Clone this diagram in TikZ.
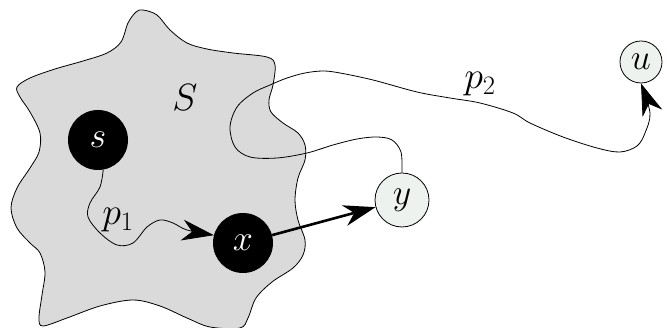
\documentclass[tikz,border=0pt]{standalone}
\usepackage{fix-cm}
\usetikzlibrary{arrows.meta}
\definecolor{blobgray}{HTML}{DADADA}
\definecolor{pale}{HTML}{EEF2EE}
\begin{document}
\begin{tikzpicture}[x=1pt,y=-1pt,
  lbl/.style={font=\fontsize{38}{38}\selectfont, inner sep=0pt},
  dark/.style={circle, fill=black, minimum size=60pt, inner sep=0pt,
    font=\fontsize{36}{36}\selectfont, text=white},
  light/.style={circle, draw=black, line width=0.8pt, fill=pale, inner sep=0pt,
    font=\fontsize{36}{36}\selectfont},
  thin/.style={line width=0.8pt},
  tip/.style={-{Stealth[length=32pt,width=21pt,inset=10pt]}}]
\useasboundingbox (0,0) rectangle (670,328);
% region S
\draw[thin, fill=blobgray] plot[smooth cycle, tension=0.55] coordinates {
 (143,10) (157,15) (170,30) (187,43) (207,49) (233,53) (267,57) (275,65)
 (273,85) (269,100) (271,112) (283,123) (298,133) (305,145) (305,160)
 (298,178) (295,200) (298,220) (305,240) (303,255) (293,268) (272,282)
 (256,298) (248,318) (240,328) (210,327) (187,318) (160,306) (133,300)
 (100,306) (67,318) (43,326) (39,318) (42,295) (45,272) (40,253) (30,243)
 (17,228) (11,208) (17,188) (30,168) (39,152) (40,133) (30,112) (20,97)
 (17,87) (30,78) (55,69) (83,61) (107,53) (121,42) (128,23) (136,12)};
\node[lbl] (S) at (185,98) {$S$};
% nodes
\node[dark] (s) at (98,140) {$s$};
\node[dark] (x) at (243,243) {$x$};
\node[light, minimum size=54pt] (y) at (402,200) {$y$};
\node[light, minimum size=42pt] (u) at (641,62) {$u$};
% path p2
\draw[thin, tip] plot[smooth, tension=0.55] coordinates {
 (y.north) (401,152) (392,140) (377,137) (357,139) (333,145) (307,153)
 (277,158) (250,157) (235,147) (230,127) (237,107) (253,93) (270,85)
 (287,78) (305,73) (323,71) (340,73) (373,80) (417,92) (450,98) (480,103)
 (513,113) (530,123) (563,137) (597,148) (620,152) (637,146) (645,133)
 (650,113) (u.south)};
% path p1
\draw[thin, tip] plot[smooth, tension=0.55] coordinates {
 (s.-80) (100,187) (90,203) (88,217) (100,233) (117,245) (133,243)
 (147,227) (160,220) (173,223) (187,230) (x.165)};
% edge x -> y
\draw[line width=2.6pt, tip] (x) -- (y);
% labels
\node[lbl] (p1) at (118,220) {$p_1$};
\node[lbl] (p2) at (480,84) {$p_2$};
\end{tikzpicture}
\end{document}
